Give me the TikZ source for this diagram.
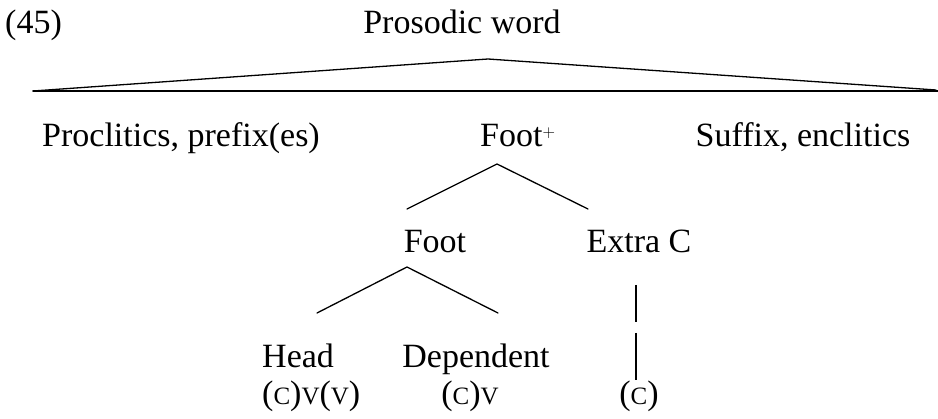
\documentclass[tikz,border=0pt]{standalone}
\usepackage{fontspec}
\setmainfont{Liberation Serif}
\newcommand\smallcap[1]{{\fontsize{25}{25}\selectfont #1}}
\tikzset{
  lbl/.style={inner sep=0pt, anchor=base, font=\fontsize{34}{40}\selectfont},
  branch/.style={line width=1.3pt, line cap=round},
  stem/.style={line width=2.6pt},
}
\begin{document}
\begin{tikzpicture}[x=1pt, y=-1pt]
  \useasboundingbox (0,0) rectangle (938,419);
  % top level
  \node[lbl, anchor=base west] (num) at (5,34) {(45)};
  \node[lbl] (pw) at (462,34) {Prosodic word};
  \coordinate (pwtop) at (488,59);
  \coordinate (pwl) at (33,91);
  \coordinate (pwr) at (936,90);
  \coordinate (barl) at (33,91);
  \coordinate (barr) at (938,91);
  \draw[branch] (pwl) -- (pwtop) -- (pwr);
  \draw[branch] (barl) -- (barr);
  % second level
  \node[lbl] (pro) at (181,147) {Proclitics, prefix(es)};
  \node[lbl, anchor=base west] (fp) at (480,147) {Foot$^{\scriptscriptstyle +}$};
  \node[lbl] (suf) at (803,147) {Suffix, enclitics};
  \coordinate (fptop) at (497,164);
  \coordinate (fpl) at (407,209);
  \coordinate (fpr) at (588,209);
  \draw[branch] (fpl) -- (fptop) -- (fpr);
  % third level
  \node[lbl] (foot) at (435,253) {Foot};
  \node[lbl] (xc) at (639,253) {Extra C};
  \coordinate (ftop) at (407,267);
  \coordinate (fl) at (317,313);
  \coordinate (fr) at (498,313);
  \draw[branch] (fl) -- (ftop) -- (fr);
  % fourth level
  \node[lbl, anchor=base west] (head) at (262,368) {Head};
  \node[lbl] (dep) at (476,368) {Dependent};
  \node[lbl, anchor=base west] (hs) at (262,405) {(\smallcap{C})\smallcap{V}(\smallcap{V})};
  \node[lbl] (ds) at (470,405) {(\smallcap{C})\smallcap{V}};
  \node[lbl] (xs) at (639,405) {(\smallcap{C})};
  \coordinate (s1a) at (636,285);
  \coordinate (s1b) at (636,322);
  \coordinate (s2a) at (636,333);
  \coordinate (s2b) at (636,380);
  \draw[stem] (s1a) -- (s1b);
  \draw[stem] (s2a) -- (s2b);
\end{tikzpicture}
\end{document}
